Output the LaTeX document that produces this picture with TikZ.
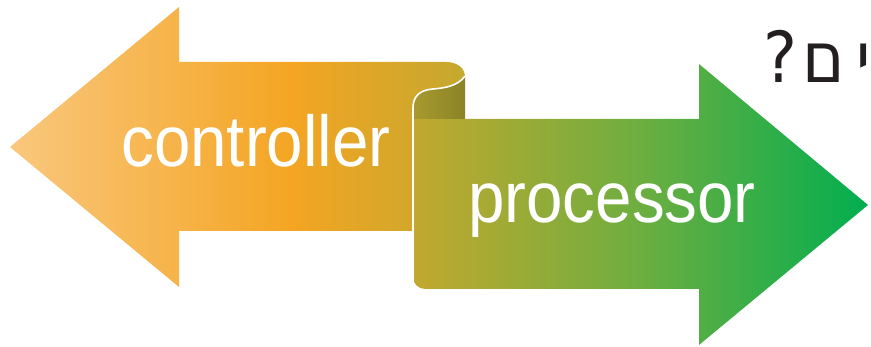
\documentclass[tikz,border=0pt]{standalone}
\usepackage{fontspec}
\usepackage{graphicx}
\usepackage{xcolor}
\usepackage{tikz}
\TeXXeTstate=1
\newfontfamily\labelfont{Liberation Sans}
\newfontfamily\hebfont[Script=Hebrew]{DejaVu Sans}

\definecolor{ctrlLight}{HTML}{F9C77D}
\definecolor{ctrlMid}{HTML}{F4A523}
\definecolor{ctrlEnd}{HTML}{C4A82E}
\definecolor{procStart}{HTML}{C2A82E}
\definecolor{procMid}{HTML}{6DAE40}
\definecolor{procEnd}{HTML}{02AE4F}
\definecolor{curlLight}{HTML}{A89A2E}
\definecolor{curlDark}{HTML}{8A8327}
\definecolor{askText}{HTML}{231F20}

\pgfdeclarehorizontalshading{ctrlshade}{100bp}{color(0bp)=(ctrlLight); color(25bp)=(ctrlLight); color(56bp)=(ctrlMid); color(75bp)=(ctrlEnd); color(100bp)=(ctrlEnd)}
\pgfdeclarehorizontalshading{procshade}{100bp}{color(0bp)=(procStart); color(25bp)=(procStart); color(50bp)=(procMid); color(75bp)=(procEnd); color(100bp)=(procEnd)}

\begin{document}
\begin{tikzpicture}[
    x=1pt, y=-1pt,
    label/.style={inner sep=0pt, anchor=base, text=white, font=\labelfont\fontsize{65.5}{70}\selectfont},
    ask/.style={inner sep=0pt, anchor=base east, text=askText, font=\hebfont\fontsize{64}{70}\selectfont}
]
\useasboundingbox (0,0) rectangle (871,347);

% left arrow
\shade[shading=ctrlshade] (10,147) -- (179,7) -- (179,62) -- (446,62)
    .. controls (457,62) and (465,68) .. (465,77)
    .. controls (458,86) and (445,88) .. (433,89)
    .. controls (420,90) and (413,96) .. (413,108)
    -- (413,231) -- (179,231) -- (179,287) -- cycle;

% right arrow
\shade[shading=procshade] (413,119) -- (699,119) -- (699,64) -- (868,205)
    -- (699,345) -- (699,289) -- (425,289) arc[start angle=90, end angle=180, radius=12]
    -- cycle;

% inside of the curl
\shade[left color=curlLight, right color=curlDark] (465,77)
    .. controls (458,86) and (445,88) .. (433,89)
    .. controls (420,90) and (413,96) .. (413,108)
    -- (413,119) -- (465,119) -- cycle;
\draw[white, line width=1.6pt] (465,76)
    .. controls (458,86) and (445,88) .. (433,89)
    .. controls (420,90) and (413,96) .. (413,108)
    -- (413,289);

\node[label] (ctrl) at (256,167) {\scalebox{1}[1.1]{controller}};
\node[label] (proc) at (612,223) {\scalebox{1}[1.1]{processor}};
\node[ask] (ques) at (871,83) {\scalebox{1}[1.1]{\beginR י\kern11ptם\kern6pt?\endR}};
\end{tikzpicture}
\end{document}
